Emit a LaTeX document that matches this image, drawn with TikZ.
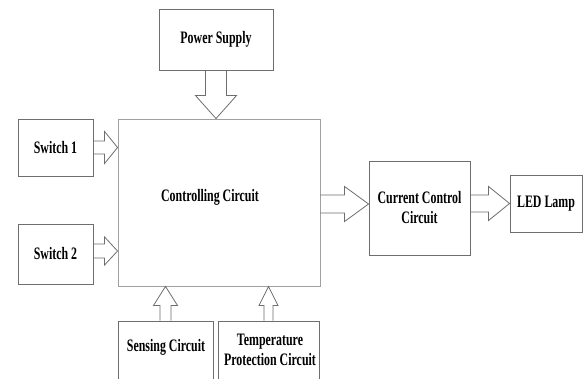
\documentclass[tikz,border=0pt]{standalone}
\usepackage{fontspec}
\setmainfont[FakeStretch=0.68]{Liberation Serif}
\usetikzlibrary{calc}
\definecolor{edge}{HTML}{6E6E6E}
\definecolor{edgelight}{HTML}{A0A0A0}
\tikzset{
  blk/.style={draw=edge, line width=0.9pt, fill=white, inner sep=0pt, align=center,
    font=\fontsize{17.5}{20}\selectfont\bfseries},
  txt/.style={inner sep=0pt, align=center, font=\fontsize{17.5}{20}\selectfont\bfseries},
  fatline/.style={draw=edge, line width=0.8pt, line join=miter},
}
% fat arrow from #1 to #2: shaft half width #3, head half width #4, head length #5
\newcommand{\fatarrow}[5]{%
  \coordinate (fa-h) at ($(#2)!#5!(#1)$);
  \draw[fatline] ($(#1)!#3!90:(#2)$) -- ($(fa-h)!#3!90:(#2)$) -- ($(fa-h)!#4!90:(#2)$)
    -- (#2) -- ($(fa-h)!#4!-90:(#2)$) -- ($(fa-h)!#3!-90:(#2)$) -- ($(#1)!#3!-90:(#2)$);
}
\begin{document}
\begin{tikzpicture}[x=1pt,y=-1pt]
\clip (0,0) rectangle (588,379);
\fill[white] (0,0) rectangle (588,379);

\node[blk, minimum width=114pt, minimum height=61pt] (ps) at (216,39.5) {Power Supply};
\node[blk, draw=edgelight, minimum width=202pt, minimum height=167pt] (cc) at (219,202.5) {};
\node[txt] (cclab) at (210,197) {Controlling Circuit};
\node[blk, minimum width=75pt, minimum height=57pt] (s1) at (55.5,147.5) {Switch 1};
\node[blk, minimum width=75pt, minimum height=60pt] (s2) at (55.5,254) {Switch 2};
\node[blk, minimum width=95pt, minimum height=64pt] (se) at (165.5,353) {};
\node[txt] (selab) at (166,347) {Sensing Circuit};
\node[blk, minimum width=101pt, minimum height=64pt] (tp) at (268.5,353) {};
\node[txt] (tplab) at (270,350) {Temperature\\Protection Circuit};
\node[blk, minimum width=101pt, minimum height=94pt] (cu) at (419.5,208) {Current Control\\Circuit};
\node[blk, minimum width=72pt, minimum height=57pt] (led) at (546,203.5) {LED Lamp};

% connector end points on the node borders
\coordinate (psa) at (ps.south);
\coordinate (psb) at (ps.south |- cc.north);
\coordinate (s1a) at (s1.east);
\coordinate (s1b) at (s1.east -| cc.west);
\coordinate (s2a) at ($(s2.east)+(0,-3)$);
\coordinate (s2b) at (s2a -| cc.west);
\coordinate (sea) at (se.north);
\coordinate (seb) at (se.north |- cc.south);
\coordinate (tpa) at (tp.north);
\coordinate (tpb) at (tp.north |- cc.south);
\coordinate (cca) at ($(cc.east)+(0,1.5)$);
\coordinate (ccb) at (cca -| cu.west);
\coordinate (cua) at (led.west -| cu.east);
\coordinate (cub) at (led.west);

\fatarrow{psa}{psb}{10.5pt}{20.5pt}{23pt}
\fatarrow{s1a}{s1b}{6.5pt}{16pt}{13pt}
\fatarrow{s2a}{s2b}{7pt}{14pt}{13pt}
\fatarrow{sea}{seb}{5.5pt}{12pt}{19pt}
\fatarrow{tpa}{tpb}{4.5pt}{9.5pt}{19pt}
\fatarrow{cca}{ccb}{9pt}{17.5pt}{24pt}
\fatarrow{cua}{cub}{8.5pt}{17pt}{21pt}
\end{tikzpicture}
\end{document}
